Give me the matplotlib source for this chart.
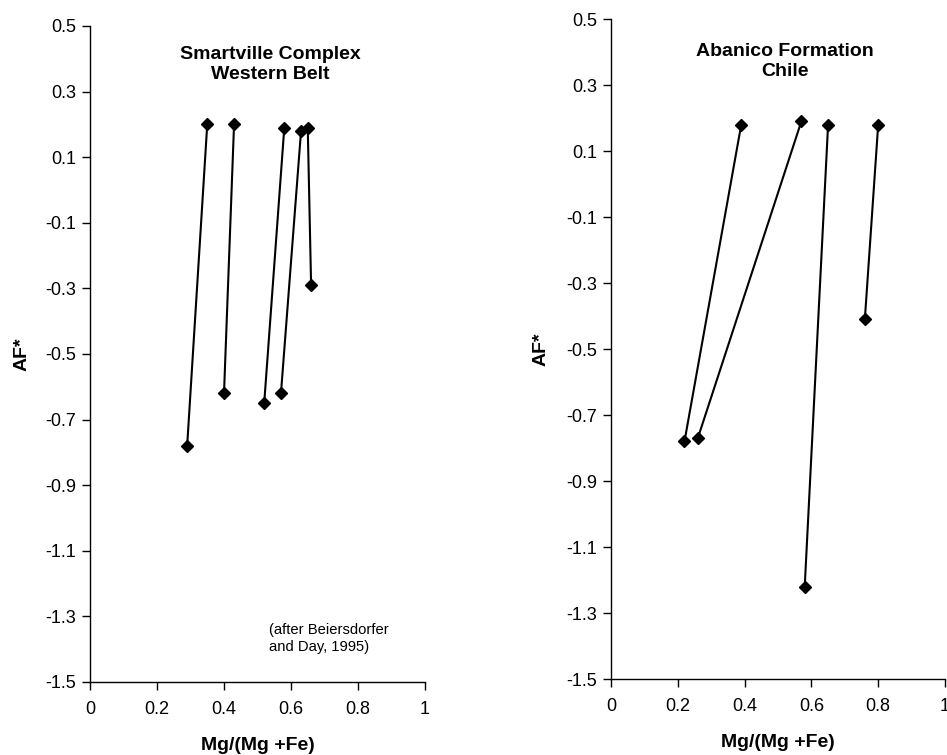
import matplotlib
matplotlib.use("Agg")
import matplotlib.pyplot as plt

plt.rcParams['font.family'] = ['Liberation Sans', 'DejaVu Sans']

# Smartville Complex, Western Belt - each pair is one tie line
smartville_x = [[0.29, 0.35], [0.40, 0.43], [0.52, 0.58], [0.57, 0.63], [0.65, 0.66]]
smartville_af = [[-0.78, 0.20], [-0.62, 0.20], [-0.65, 0.19], [-0.62, 0.18], [0.19, -0.29]]

# Abanico Formation, Chile
abanico_x = [[0.22, 0.39], [0.26, 0.57], [0.58, 0.65], [0.76, 0.80]]
abanico_af = [[-0.78, 0.18], [-0.77, 0.19], [-1.22, 0.18], [-0.41, 0.18]]

x_ticks = [0, 0.2, 0.4, 0.6, 0.8, 1]
x_tick_labels = ["0", "0.2", "0.4", "0.6", "0.8", "1"]
y_ticks = [0.5, 0.3, 0.1, -0.1, -0.3, -0.5, -0.7, -0.9, -1.1, -1.3, -1.5]
y_tick_labels = ["0.5", "0.3", "0.1", "-0.1", "-0.3", "-0.5", "-0.7", "-0.9", "-1.1", "-1.3", "-1.5"]


def setup(ax, ylab_x, xlab_y):
    ax.set_xlim(0, 1)
    ax.set_ylim(-1.5, 0.5)
    ax.set_xticks(x_ticks)
    ax.set_xticklabels(x_tick_labels)
    ax.set_yticks(y_ticks)
    ax.set_yticklabels(y_tick_labels)
    for s in ["top", "right"]:
        ax.spines[s].set_visible(False)
    for s in ["left", "bottom"]:
        ax.spines[s].set_linewidth(1.0)
        ax.spines[s].set_color("black")
    ax.tick_params(direction="out", length=6, width=1, labelsize=13)
    ax.tick_params(axis="y", pad=4)
    ax.tick_params(axis="x", pad=8)
    ax.set_xlabel("Mg/(Mg +Fe)", fontsize=14, fontweight="bold")
    ax.set_ylabel("AF*", fontsize=14, fontweight="bold")
    ax.yaxis.set_label_coords(ylab_x, 0.5)
    ax.xaxis.set_label_coords(0.5, xlab_y)


def draw_pairs(ax, xs, ys):
    for x, y in zip(xs, ys):
        ax.plot(x, y, color="black", lw=1.5, marker="D", markersize=6,
                markerfacecolor="black", clip_on=False)


fig = plt.figure(figsize=(9.47, 7.55), dpi=100)
ax1 = fig.add_axes([90 / 947, 73 / 755, 335 / 947, 656 / 755])
ax2 = fig.add_axes([611 / 947, 76 / 755, 334 / 947, 660 / 755])

draw_pairs(ax1, smartville_x, smartville_af)
setup(ax1, -0.179, -0.084)
ax1.text(0.537, 0.941, "Smartville Complex\nWestern Belt", transform=ax1.transAxes,
         ha="center", va="center", fontsize=14, fontweight="bold", linespacing=1.2)
ax1.text(0.535, 0.066, "(after Beiersdorfer\nand Day, 1995)", transform=ax1.transAxes,
         ha="left", va="center", fontsize=10.6, linespacing=1.25)

draw_pairs(ax2, abanico_x, abanico_af)
setup(ax2, -0.183, -0.083)
ax2.text(0.52, 0.936, "Abanico Formation\nChile", transform=ax2.transAxes,
         ha="center", va="center", fontsize=14, fontweight="bold", linespacing=1.2)

fig.savefig("out.png", dpi=100)
